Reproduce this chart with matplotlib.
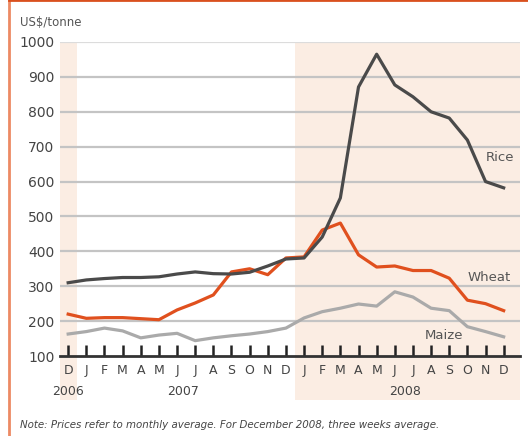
import matplotlib
matplotlib.use('Agg')
import numpy as np
from matplotlib import pyplot as plt
from matplotlib.lines import Line2D

months = ['D', 'J', 'F', 'M', 'A', 'M', 'J', 'J', 'A', 'S', 'O', 'N', 'D',
          'J', 'F', 'M', 'A', 'M', 'J', 'J', 'A', 'S', 'O', 'N', 'D']
years = ['2006', '2007', '2008']
rice = [310, 318, 322, 325, 325, 327, 335, 341, 336, 335, 340, 358, 378,
        381, 441, 553, 871, 965, 877, 843, 800, 782, 719, 600, 582]
wheat = [220, 208, 210, 210, 207, 204, 232, 252, 275, 341, 350, 333, 381,
         384, 461, 481, 390, 355, 358, 345, 345, 323, 260, 250, 230]
maize = [163, 170, 180, 172, 152, 160, 165, 144, 152, 158, 163, 170, 180,
         209, 227, 237, 249, 243, 284, 269, 237, 230, 184, 170, 155]

fig = plt.figure(figsize=(5.28, 4.36), dpi=100)
ax = fig.add_axes([60/528, 1-356/436, 460/528, 314/436])
x = np.arange(len(months))

# shaded bands (Dec 2006, 2008)
ax.axvspan(-0.45, 0.5, ymin=-0.14, ymax=1, color='#fbede3', lw=0, clip_on=False, zorder=0)
ax.axvspan(12.5, 24.9, ymin=-0.14, ymax=1, color='#fbede3', lw=0, clip_on=False, zorder=0)

for v in range(200, 1001, 100):
    ax.axhline(v, color='#c4c4c4' if v < 1000 else '#dcdcdc', lw=1.6, zorder=1)

ax.plot(x, maize, color='#aaaaaa', lw=2.3, zorder=3)
ax.plot(x, wheat, color='#e0501e', lw=2.3, zorder=4)
ax.plot(x, rice, color='#4a4a4a', lw=2.3, zorder=5)

ax.text(24.6, 668, 'Rice', ha='right', va='center', fontsize=9.5, color='#555555')
ax.text(24.4, 326, 'Wheat', ha='right', va='center', fontsize=9.5, color='#555555')
ax.text(21.8, 160, 'Maize', ha='right', va='center', fontsize=9.5, color='#555555')

ax.set_xlim(-0.45, 24.9)
ax.set_ylim(100, 1000)
ax.set_yticks(range(100, 1001, 100))
ax.tick_params(axis='y', length=0, pad=4, labelsize=10, labelcolor='#444444')
ax.set_xticks(x)
ax.set_xticklabels(months)
ax.tick_params(axis='x', direction='in', length=8, width=1.8, color='#222222',
               labelsize=9, labelcolor='#444444', pad=6)
for s in ['top', 'right', 'left']:
    ax.spines[s].set_visible(False)
ax.spines['bottom'].set_color('#333333')
ax.spines['bottom'].set_linewidth(2)
ax.patch.set_alpha(0)

fig.text(68/528, 1-391/436, years[0], ha='center', va='center', fontsize=9, color='#444444')
fig.text(183/528, 1-391/436, years[1], ha='center', va='center', fontsize=9, color='#444444')
fig.text(405/528, 1-391/436, years[2], ha='center', va='center', fontsize=9, color='#444444')
fig.text(20/528, 1-22/436, 'US$/tonne', ha='left', va='center', fontsize=8.5, color='#555555')
fig.text(20/528, 1-425/436,
         'Note: Prices refer to monthly average. For December 2008, three weeks average.',
         ha='left', va='center', fontsize=7.4, style='italic', color='#444444')

# orange frame
fig.add_artist(Line2D([8.5/528, 8.5/528], [0, 1], color='#ec8a64', lw=2, transform=fig.transFigure))
fig.add_artist(Line2D([8.5/528, 1], [0.999, 0.999], color='#d9501e', lw=2, transform=fig.transFigure))

fig.savefig('out.png', dpi=100)
